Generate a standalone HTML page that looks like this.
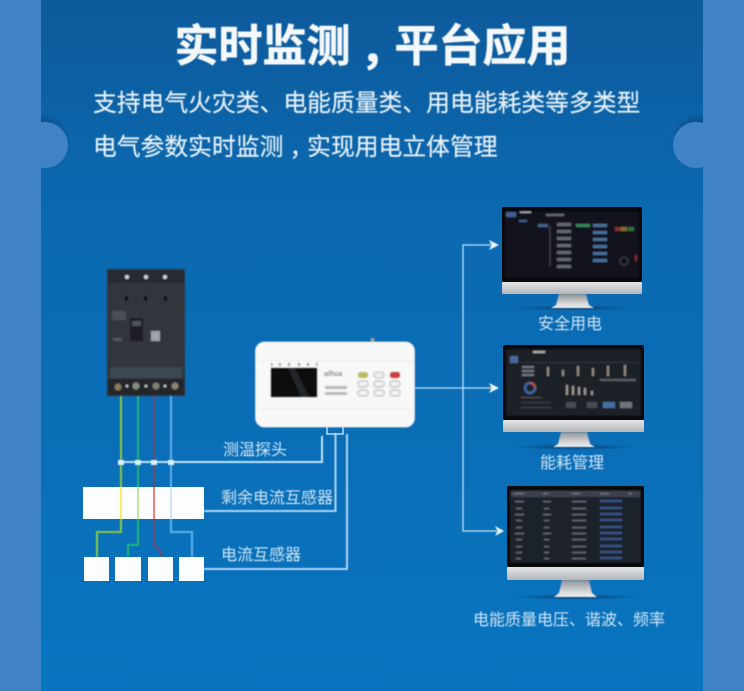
<!DOCTYPE html>
<html><head><meta charset="utf-8">
<style>
html,body{margin:0;padding:0;background:#4082c6}
svg{display:block}
text{font-family:"Liberation Sans","Noto Sans CJK SC",sans-serif}
.tc{font-family:"Noto Sans CJK TC",sans-serif}
</style></head>
<body>
<svg width="744" height="691" viewBox="0 0 744 691" xmlns="http://www.w3.org/2000/svg">
<defs>
<linearGradient id="bg" x1="0" y1="0" x2="0" y2="1">
<stop offset="0" stop-color="#0d5a9b"/><stop offset=".3" stop-color="#0b69b0"/><stop offset="1" stop-color="#0874bf"/>
</linearGradient>
<linearGradient id="chin" x1="0" y1="0" x2="0" y2="1"><stop offset="0" stop-color="#e4e6e8"/><stop offset="1" stop-color="#b4b7ba"/></linearGradient>
<linearGradient id="stand" x1="0" y1="0" x2="0" y2="1"><stop offset="0" stop-color="#8e9296"/><stop offset=".7" stop-color="#d8dadc"/><stop offset="1" stop-color="#eceeee"/></linearGradient>
<radialGradient id="shadow"><stop offset="0" stop-color="#0a3a66" stop-opacity=".85"/><stop offset="1" stop-color="#0a3a66" stop-opacity="0"/></radialGradient>
<filter id="b1" x="-5%" y="-5%" width="110%" height="110%"><feGaussianBlur stdDeviation=".8"/></filter>
<filter id="b2" x="-5%" y="-20%" width="110%" height="140%"><feGaussianBlur stdDeviation=".45"/></filter>
<filter id="b3" x="-30%" y="-30%" width="160%" height="160%"><feGaussianBlur stdDeviation="1.800"/></filter>
</defs>

<rect width="744" height="691" fill="#4082c6"/>
<rect x="41" y="0" width="662" height="691" fill="url(#bg)"/>
<circle cx="42" cy="142" r="25" fill="#0a3f78" opacity=".45" filter="url(#b3)"/>
<circle cx="699" cy="142" r="25" fill="#0a3f78" opacity=".45" filter="url(#b3)"/>
<rect x="0" y="100" width="41" height="90" fill="#4082c6"/>
<rect x="703" y="100" width="41" height="90" fill="#4082c6"/>
<circle cx="45" cy="145" r="23" fill="#4082c6"/>
<circle cx="696" cy="145" r="23" fill="#4082c6"/>

<text x="372.500" y="61" text-anchor="middle" font-size="44" font-weight="700" fill="#f4f8fb" stroke="#f4f8fb" stroke-width=".6" filter="url(#b2)">实时监测<tspan class="tc" dy="16">，</tspan><tspan dy="-16">平台应用</tspan></text>
<text x="93" y="111" font-size="23.800" fill="#e3eff8" stroke="#e3eff8" stroke-width=".2" filter="url(#b2)">支持电气火灾类、电能质量类、用电能耗类等多类型</text>
<text x="93" y="155" font-size="23.800" fill="#e3eff8" stroke="#e3eff8" stroke-width=".2" filter="url(#b2)">电气参数实时监测<tspan class="tc" dy="8">，</tspan><tspan dy="-8">实现用电立体管理</tspan></text>

<!-- breaker -->
<g filter="url(#b1)">
<rect x="107" y="269" width="78" height="127" fill="#31363b"/>
<rect x="108" y="270" width="76" height="13" fill="#282c30"/>
<circle cx="127" cy="277" r="2" fill="#d8d8d8"/><circle cx="146" cy="277" r="2" fill="#d8d8d8"/><circle cx="165" cy="277" r="2" fill="#d8d8d8"/>
<rect x="125" y="296" width="3" height="5" fill="#0c0c0c"/><rect x="144" y="296" width="3" height="5" fill="#0c0c0c"/><rect x="164" y="296" width="3" height="5" fill="#0c0c0c"/>
<rect x="130" y="318" width="13" height="23" fill="#1a1d20"/><rect x="132" y="321" width="9" height="5" fill="#50555a"/>
<rect x="151" y="331" width="9" height="10" fill="#9ea3a6"/>
<rect x="112" y="311" width="14" height="9" fill="#4a5054"/><rect x="113" y="338" width="9" height="3" fill="#55595e"/>
<rect x="110" y="367" width="72" height="11" fill="#3a4652"/>
<rect x="108" y="379" width="76" height="16" fill="#24272a"/>
<circle cx="118" cy="387" r="3.500" fill="#8a7a5e"/><circle cx="136" cy="386" r="3.500" fill="#8a8a7e"/><circle cx="156" cy="386" r="3.500" fill="#7e7e74"/><circle cx="175" cy="386" r="3.500" fill="#8a8472"/>
<circle cx="127" cy="386" r="1.300" fill="#ddd"/><circle cx="146" cy="386" r="1.300" fill="#ddd"/><circle cx="165" cy="386" r="1.300" fill="#ddd"/>
</g>

<!-- wires -->
<g fill="none" stroke-width="2" filter="url(#b2)">
<path d="M121 396V532H97V557" stroke="#8cc63f"/>
<path d="M138 396V545H128V557" stroke="#1fb57a"/>
<path d="M154 396V545L161 552V557" stroke="#6c4a6e"/>
<path d="M171 396V532H192V557" stroke="#5fb0ee"/>
<path d="M121 462H322V436" stroke="#bfe2f8"/>
<path d="M204 511H335.500V433" stroke="#a9d6f5"/>
<path d="M204 569H347V434" stroke="#a9d6f5"/>
</g>
<g fill="#d9f0fc" filter="url(#b2)">
<rect x="118" y="460" width="6" height="5"/><rect x="135" y="460" width="6" height="5"/><rect x="151" y="460" width="6" height="5"/><rect x="168" y="460" width="6" height="5"/>
</g>

<rect x="83" y="487" width="121" height="32" fill="#fbfdfe"/>
<rect x="120" y="487" width="2" height="32" fill="#f6ee60"/>
<rect x="137" y="487" width="2" height="32" fill="#bfe9a8"/>
<rect x="153" y="487" width="2" height="32" fill="#f47a80"/>
<rect x="170" y="487" width="2" height="32" fill="#cfe5f7"/>
<rect x="84" y="557" width="25" height="24" fill="#fbfdfe"/>
<rect x="115" y="557" width="26" height="24" fill="#fbfdfe"/>
<rect x="148" y="557" width="25" height="24" fill="#fbfdfe"/>
<rect x="179" y="557" width="25" height="24" fill="#fbfdfe"/>

<g font-size="16" fill="#cfe5f5" filter="url(#b2)">
<text x="223" y="455">测温探头</text>
<text x="221" y="503">剩余电流互感器</text>
<text x="221" y="560">电流互感器</text>
</g>

<!-- controller -->
<path d="M327 426V434H343V426" fill="none" stroke="#bcdcf3" stroke-width="1.500"/>
<rect x="370.500" y="338" width="4" height="6" fill="#9a9d94" filter="url(#b2)"/>
<g filter="url(#b2)">
<rect x="255.500" y="342" width="159" height="85" rx="9" fill="#f7f8f8" stroke="#cfdbe4"/>
<rect x="257" y="360" width="156" height="1" fill="#eceef0"/>
<rect x="257" y="408" width="156" height="1" fill="#eceef0"/>
</g>
<g filter="url(#b1)">
<rect x="271" y="368" width="46" height="29" fill="#0b0b0d"/>
<path d="M288 368h7l14 29h-8z" fill="#232529"/>
<g fill="#9a9da0"><rect x="271" y="363" width="1.500" height="3"/><rect x="279" y="363" width="2" height="3"/><rect x="288" y="363" width="2" height="3"/><rect x="298" y="363" width="2" height="3"/><rect x="307" y="363" width="2" height="3"/><rect x="316" y="363" width="1.500" height="3"/></g>
<text x="324" y="376" font-size="7" font-style="italic" font-weight="700" fill="#8b8e92">alhua</text>
<rect x="325" y="386" width="22" height="3" fill="#b8bbbe"/><rect x="325" y="392" width="22" height="3" fill="#b8bbbe"/>
<rect x="358" y="372" width="10" height="6" rx="2.500" fill="#b9bc62"/>
<rect x="374" y="372" width="10" height="6" rx="2.500" fill="#eceeee" stroke="#999" stroke-width=".6"/>
<rect x="390" y="372" width="10" height="6" rx="2.500" fill="#c4423e"/>
<g fill="#f0f1f1" stroke="#999" stroke-width=".7">
<rect x="358" y="381" width="10" height="6" rx="2.500"/><rect x="374" y="381" width="10" height="6" rx="2.500"/><rect x="390" y="381" width="10" height="6" rx="2.500"/>
<rect x="358" y="390" width="10" height="6" rx="2.500"/><rect x="374" y="390" width="10" height="6" rx="2.500"/><rect x="390" y="390" width="10" height="6" rx="2.500"/>
</g>
</g>

<!-- connectors -->
<g fill="none" stroke="#bfe2f8" stroke-width="1.300" filter="url(#b2)">
<path d="M415 388H492"/>
<path d="M491 245H463V531H497"/>
</g>
<g fill="#eef8fd" filter="url(#b2)">
<path d="M489 240L499 245L489 250L491.500 245Z"/>
<path d="M489 383L499 388L489 393L491.500 388Z"/>
<path d="M495 526L504 531L495 536L497.500 531Z"/>
</g>

<!-- monitor 1 -->
<ellipse cx="573" cy="308" rx="62" ry="3" fill="url(#shadow)"/>
<path d="M559 294H586L589 305L594 308H551L556 305Z" fill="url(#stand)" filter="url(#b2)"/>
<rect x="502" y="207" width="140" height="75" rx="2" fill="#08090b"/>
<rect x="502" y="282" width="140" height="12" rx="1" fill="url(#chin)"/>
<g filter="url(#b1)" opacity=".8">
<rect x="505" y="211" width="134" height="67" fill="#151922"/>
<rect x="506" y="212" width="10" height="5" fill="#4f76b0"/>
<rect x="520" y="211" width="11" height="2" fill="#ccc"/>
<rect x="519" y="220" width="8" height="2" fill="#4f76b0"/>
<rect x="538" y="224" width="10" height="3" fill="#5274ad"/>
<path d="M550 226V266" stroke="#555" fill="none"/>
<g fill="#7d8490"><rect x="557" y="223" width="14" height="3"/><rect x="557" y="230" width="14" height="3"/><rect x="557" y="237" width="14" height="3"/><rect x="557" y="244" width="14" height="3"/><rect x="557" y="251" width="14" height="3"/><rect x="557" y="258" width="14" height="3"/><rect x="557" y="265" width="14" height="3"/></g>
<rect x="576" y="224" width="14" height="3" fill="#3fa868"/>
<g fill="#5a86c0"><rect x="593" y="224" width="14" height="3"/><rect x="593" y="231" width="14" height="3"/><rect x="593" y="238" width="14" height="3"/><rect x="593" y="245" width="14" height="3"/><rect x="593" y="252" width="14" height="3"/><rect x="593" y="259" width="14" height="3"/></g>
<rect x="615" y="227" width="6" height="4" fill="#a03a3a"/><rect x="621" y="227" width="6" height="4" fill="#a08a3a"/><rect x="628" y="227" width="6" height="4" fill="#3e8a4a"/>
<circle cx="624" cy="261" r="4" fill="none" stroke="#555"/>
<rect x="635" y="255" width="2" height="6" fill="#a03a3a"/>
<rect x="546" y="214" width="18" height="2" fill="#888"/>
</g>
<text x="570" y="329" text-anchor="middle" font-size="16" fill="#cfe5f5" filter="url(#b2)">安全用电</text>

<!-- monitor 2 -->
<ellipse cx="574" cy="447" rx="62" ry="3" fill="url(#shadow)"/>
<path d="M561 432H587L590 444L595 447H553L558 444Z" fill="url(#stand)" filter="url(#b2)"/>
<rect x="503" y="345" width="141" height="75" rx="2" fill="#08090b"/>
<rect x="503" y="420" width="141" height="12" rx="1" fill="url(#chin)"/>
<g filter="url(#b1)" opacity=".8">
<rect x="506" y="349" width="135" height="67" fill="#20252e"/>
<rect x="510" y="356" width="8" height="7" fill="#5a82c0"/>
<rect x="533" y="351" width="12" height="2" fill="#ddd"/>
<rect x="520" y="362" width="119" height="1" fill="#3a404a"/>
<g fill="#8f959e"><rect x="522" y="366" width="12" height="2"/><rect x="522" y="370" width="12" height="2"/><rect x="522" y="374" width="12" height="2"/></g>
<g fill="#b8b0a8"><rect x="547" y="367" width="2" height="9"/><rect x="562" y="370" width="2" height="6"/><rect x="577" y="366" width="2" height="10"/><rect x="592" y="368" width="2" height="8"/><rect x="607" y="366" width="2" height="10"/><rect x="624" y="365" width="2" height="11"/></g>
<circle cx="530" cy="388" r="5" fill="none" stroke="#4a80c8" stroke-width="2.500"/>
<path d="M530 383a5 5 0 0 1 5 5" fill="none" stroke="#d06060" stroke-width="2.500"/>
<g fill="#c8c0b8"><rect x="566" y="385" width="2" height="10"/><rect x="572" y="386" width="2" height="9"/><rect x="578" y="387" width="2" height="8"/><rect x="584" y="388" width="2" height="7"/><rect x="591" y="391" width="2" height="4"/></g>
<rect x="600" y="379" width="36" height="2" fill="#707680"/>
<rect x="521" y="397" width="20" height="1" fill="#666"/><rect x="521" y="402" width="30" height="1" fill="#555"/><rect x="521" y="407" width="30" height="1" fill="#555"/>
<rect x="566" y="402" width="10" height="6" fill="#565c66"/><rect x="587" y="402" width="10" height="6" fill="#565c66"/>
<rect x="603" y="402" width="12" height="6" fill="#5a88c8"/><rect x="620" y="402" width="12" height="6" fill="#8b919a"/>
</g>
<text x="572" y="468" text-anchor="middle" font-size="16" fill="#cfe5f5" filter="url(#b2)">能耗管理</text>

<!-- monitor 3 -->
<ellipse cx="576" cy="597" rx="62" ry="3" fill="url(#shadow)"/>
<path d="M562 580H589L592 593L597 597H554L559 593Z" fill="url(#stand)" filter="url(#b2)"/>
<rect x="507" y="486" width="137" height="81" rx="2" fill="#08090b"/>
<rect x="507" y="567" width="137" height="13" rx="1" fill="url(#chin)"/>
<g filter="url(#b1)">
<rect x="510" y="490" width="131" height="73" fill="#1c212b"/>
<rect x="511" y="491" width="129" height="6" fill="#3a4250"/>
<g fill="#8d939b" opacity=".75">
<rect x="514" y="493" width="10" height="1.200"/><rect x="543" y="493" width="5" height="1.200"/><rect x="572" y="493" width="8" height="1.200"/><rect x="600" y="493" width="9" height="1.200"/><rect x="628" y="493" width="4" height="1.200"/>
<rect x="515" y="501" width="9" height="1.200"/><rect x="543" y="501" width="8" height="1.200"/><rect x="572" y="501" width="14" height="1.200"/>
<rect x="516" y="508" width="6" height="1.200"/><rect x="544" y="508" width="5" height="1.200"/><rect x="572" y="508" width="14" height="1.200"/>
<rect x="515" y="514" width="9" height="1.200"/><rect x="543" y="514" width="8" height="1.200"/><rect x="572" y="514" width="14" height="1.200"/>
<rect x="516" y="520" width="6" height="1.200"/><rect x="544" y="520" width="5" height="1.200"/><rect x="572" y="520" width="14" height="1.200"/>
<rect x="516" y="527" width="6" height="1.200"/><rect x="544" y="527" width="5" height="1.200"/><rect x="572" y="527" width="14" height="1.200"/>
<rect x="515" y="533" width="9" height="1.200"/><rect x="543" y="533" width="8" height="1.200"/><rect x="572" y="533" width="14" height="1.200"/>
<rect x="516" y="539" width="6" height="1.200"/><rect x="544" y="539" width="5" height="1.200"/><rect x="572" y="539" width="14" height="1.200"/>
<rect x="516" y="546" width="6" height="1.200"/><rect x="544" y="546" width="5" height="1.200"/><rect x="572" y="546" width="14" height="1.200"/>
<rect x="516" y="552" width="6" height="1.200"/><rect x="544" y="552" width="5" height="1.200"/><rect x="572" y="552" width="14" height="1.200"/>
<rect x="516" y="558" width="5" height="1.200"/><rect x="544" y="558" width="5" height="1.200"/><rect x="572" y="558" width="14" height="1.200"/>
</g>
<g fill="#3f68a8" opacity=".8">
<rect x="600" y="500" width="22" height="2"/><rect x="600" y="507" width="22" height="2"/><rect x="600" y="513" width="22" height="2"/><rect x="600" y="519" width="22" height="2"/><rect x="600" y="526" width="22" height="2"/><rect x="600" y="532" width="22" height="2"/><rect x="600" y="538" width="22" height="2"/><rect x="600" y="545" width="22" height="2"/><rect x="600" y="551" width="22" height="2"/><rect x="600" y="557" width="22" height="2"/>
</g>
</g>
<text x="473" y="625" font-size="16" fill="#cfe5f5" filter="url(#b2)">电能质量电压、谐波、频率</text>
</svg>
</body></html>
